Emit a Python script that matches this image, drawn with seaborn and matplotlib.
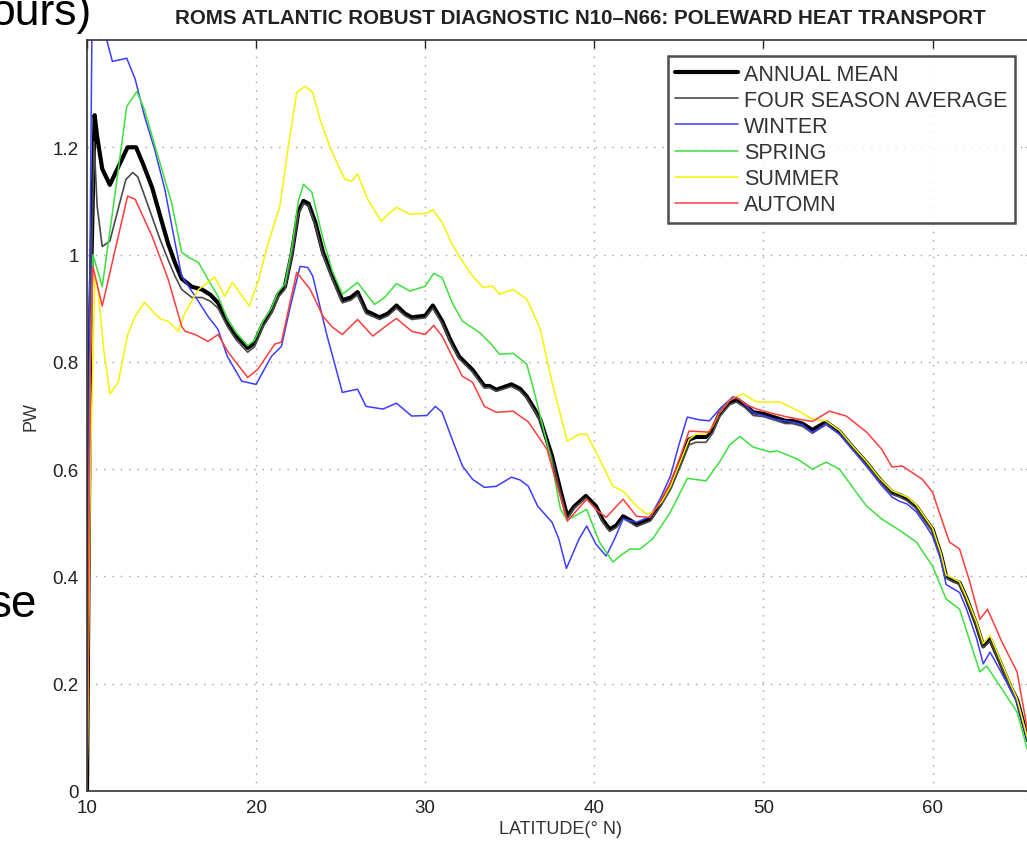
import numpy as np
import pandas as pd
import matplotlib
matplotlib.use("Agg")
import matplotlib.pyplot as plt
import seaborn as sns

# ---------------- data ----------------
annual_lat = [10.0, 10.2, 10.45, 10.6, 10.9, 11.35, 11.8, 12.4, 12.9, 13.3, 13.85, 14.3, 14.8, 15.2, 15.6, 16.2, 16.8, 17.3, 17.75, 18.3, 18.8, 19.5, 19.9, 20.4, 20.9, 21.3, 21.7, 22.1, 22.5, 22.8, 23.1, 23.5, 23.95, 24.5, 25.1, 25.6, 26.0, 26.5, 27.3, 27.8, 28.3, 28.8, 29.2, 30.0, 30.45, 31.0, 31.5, 32.0, 32.8, 33.5, 33.8, 34.2, 35.1, 35.6, 36.0, 36.5, 36.8, 37.5, 38.0, 38.4, 38.8, 39.5, 40.1, 40.5, 40.9, 41.3, 41.7, 42.1, 42.5, 43.3, 43.9, 44.5, 45.1, 45.6, 46.0, 46.6, 47.0, 47.4, 48.0, 48.4, 48.9, 49.4, 50.0, 50.8, 51.3, 51.7, 52.3, 52.9, 53.7, 54.5, 55.3, 56.1, 56.9, 57.6, 58.05, 58.5, 59.05, 59.6, 60.0, 60.5, 60.8, 61.2, 61.6, 62.0, 62.6, 63.0, 63.4, 64.0, 64.6, 65.0, 65.6, 66.0]
annual_pw = [0.0, 0.9, 1.26, 1.22, 1.16, 1.13, 1.16, 1.2, 1.2, 1.17, 1.125, 1.075, 1.02, 0.985, 0.955, 0.94, 0.935, 0.925, 0.91, 0.875, 0.85, 0.826, 0.835, 0.87, 0.895, 0.925, 0.94, 1.0, 1.08, 1.1, 1.095, 1.06, 1.005, 0.96, 0.915, 0.92, 0.93, 0.895, 0.883, 0.89, 0.905, 0.89, 0.883, 0.886, 0.905, 0.876, 0.84, 0.81, 0.785, 0.755, 0.755, 0.748, 0.758, 0.75, 0.736, 0.71, 0.693, 0.624, 0.56, 0.512, 0.53, 0.55, 0.531, 0.505, 0.488, 0.495, 0.512, 0.505, 0.497, 0.507, 0.535, 0.568, 0.615, 0.655, 0.66, 0.66, 0.675, 0.703, 0.725, 0.73, 0.72, 0.706, 0.703, 0.695, 0.69, 0.69, 0.685, 0.673, 0.688, 0.67, 0.64, 0.612, 0.58, 0.557, 0.552, 0.545, 0.53, 0.505, 0.488, 0.44, 0.4, 0.393, 0.388, 0.36, 0.31, 0.27, 0.283, 0.24, 0.195, 0.17, 0.1, 0.05]

four_lat = [10.0, 10.2, 10.42, 10.6, 10.9, 11.35, 11.8, 12.3, 12.7, 13.0, 13.4, 13.85, 14.3, 14.8, 15.2, 15.6, 16.2, 16.8, 17.3, 17.75, 18.3, 18.8, 19.5, 19.9, 20.4, 20.9, 21.3, 21.7, 22.1, 22.5, 22.8, 23.1, 23.5, 23.95, 24.5, 25.1, 25.6, 26.0, 26.5, 27.3, 27.8, 28.3, 28.8, 29.2, 30.0, 30.45, 31.0, 31.5, 32.0, 32.8, 33.5, 33.8, 34.2, 35.1, 35.6, 36.0, 36.5, 36.8, 37.5, 38.0, 38.4, 38.8, 39.5, 40.1, 40.5, 40.9, 41.3, 41.7, 42.1, 42.5, 43.3, 43.9, 44.5, 45.1, 45.6, 46.0, 46.6, 47.0, 47.4, 48.0, 48.4, 48.9, 49.4, 50.0, 50.8, 51.3, 51.7, 52.3, 52.9, 53.7, 54.5, 55.3, 56.1, 56.9, 57.6, 58.05, 58.5, 59.05, 59.6, 60.0, 60.5, 60.8, 61.2, 61.6, 62.0, 62.6, 63.0, 63.4, 64.0, 64.6, 65.0, 65.6, 66.0]
four_pw = [0.0, 0.9, 1.21, 1.09, 1.015, 1.025, 1.08, 1.14, 1.153, 1.145, 1.11, 1.07, 1.03, 0.99, 0.96, 0.935, 0.92, 0.92, 0.913, 0.9, 0.866, 0.842, 0.818, 0.828, 0.865, 0.89, 0.92, 0.935, 0.995, 1.075, 1.095, 1.09, 1.055, 1.0, 0.955, 0.91, 0.915, 0.925, 0.89, 0.879, 0.886, 0.9, 0.886, 0.879, 0.882, 0.9, 0.872, 0.836, 0.806, 0.781, 0.751, 0.752, 0.745, 0.754, 0.746, 0.732, 0.707, 0.69, 0.62, 0.556, 0.508, 0.527, 0.546, 0.527, 0.501, 0.484, 0.491, 0.508, 0.501, 0.493, 0.503, 0.53, 0.562, 0.606, 0.645, 0.65, 0.65, 0.667, 0.697, 0.72, 0.725, 0.715, 0.7, 0.698, 0.69, 0.685, 0.685, 0.68, 0.667, 0.683, 0.665, 0.636, 0.608, 0.576, 0.553, 0.548, 0.541, 0.526, 0.501, 0.484, 0.437, 0.397, 0.39, 0.385, 0.357, 0.307, 0.267, 0.28, 0.237, 0.192, 0.167, 0.098, 0.048]

winter_lat = [10.0, 10.15, 10.3, 11.0, 11.2, 11.5, 12.35, 12.85, 13.4, 14.0, 14.6, 15.2, 15.6, 16.4, 17.15, 17.74, 18.3, 19.15, 20.0, 20.9, 21.5, 22.0, 22.6, 23.05, 23.35, 23.8, 24.2, 24.7, 25.1, 26.0, 26.5, 27.5, 28.3, 29.2, 30.1, 30.6, 31.0, 31.6, 32.2, 32.8, 33.5, 34.2, 35.1, 35.6, 36.1, 36.65, 37.5, 37.9, 38.35, 39.1, 39.55, 40.1, 40.7, 41.2, 41.7, 42.5, 43.3, 43.9, 44.5, 45.0, 45.5, 46.2, 46.8, 47.5, 48.2, 48.6, 49.4, 50.0, 50.8, 51.7, 52.3, 52.9, 53.7, 54.5, 55.3, 56.1, 56.9, 57.6, 58.05, 58.5, 59.05, 59.6, 60.0, 60.5, 60.8, 61.6, 62.0, 62.6, 63.0, 63.4, 64.0, 64.6, 65.0, 65.6, 66.0]
winter_pw = [0.0, 0.9, 1.45, 1.45, 1.396, 1.36, 1.366, 1.327, 1.258, 1.196, 1.122, 1.023, 0.96, 0.922, 0.885, 0.861, 0.81, 0.764, 0.758, 0.81, 0.829, 0.9, 0.978, 0.976, 0.96, 0.9, 0.848, 0.79, 0.743, 0.749, 0.717, 0.712, 0.723, 0.699, 0.7, 0.717, 0.706, 0.655, 0.606, 0.581, 0.566, 0.568, 0.585, 0.58, 0.568, 0.531, 0.501, 0.47, 0.415, 0.47, 0.494, 0.46, 0.438, 0.47, 0.507, 0.501, 0.512, 0.545, 0.587, 0.645, 0.697, 0.692, 0.69, 0.715, 0.735, 0.73, 0.705, 0.7, 0.692, 0.688, 0.683, 0.668, 0.685, 0.665, 0.635, 0.605, 0.573, 0.548, 0.54, 0.535, 0.52, 0.495, 0.475, 0.43, 0.385, 0.37, 0.34, 0.285, 0.237, 0.259, 0.225, 0.19, 0.165, 0.095, 0.05]

spring_lat = [10.0, 10.2, 10.35, 10.9, 11.6, 12.35, 12.95, 13.4, 14.2, 15.0, 15.6, 16.0, 16.6, 17.15, 17.75, 18.3, 18.8, 19.5, 19.9, 20.4, 20.9, 21.3, 21.7, 22.1, 22.5, 22.8, 23.3, 23.95, 24.5, 25.1, 26.0, 27.0, 27.6, 28.3, 29.1, 30.0, 30.5, 31.0, 31.6, 32.2, 33.2, 33.9, 34.4, 35.2, 36.0, 36.4, 36.8, 37.4, 38.0, 38.4, 39.55, 40.3, 41.1, 41.6, 42.1, 42.7, 43.45, 44.5, 45.5, 46.6, 47.4, 48.0, 48.6, 49.4, 50.4, 50.8, 52.0, 52.9, 53.7, 54.5, 55.3, 56.1, 57.0, 58.05, 59.05, 60.0, 60.8, 61.6, 62.2, 62.8, 63.2, 64.0, 65.0, 65.6, 66.0]
spring_pw = [0.0, 0.8, 1.0, 0.94, 1.1, 1.276, 1.304, 1.27, 1.183, 1.097, 1.004, 0.995, 0.985, 0.954, 0.922, 0.88, 0.855, 0.83, 0.84, 0.875, 0.9, 0.93, 0.945, 1.01, 1.1, 1.131, 1.116, 1.03, 0.97, 0.926, 0.948, 0.907, 0.92, 0.946, 0.932, 0.941, 0.965, 0.957, 0.91, 0.876, 0.855, 0.833, 0.814, 0.816, 0.796, 0.75, 0.699, 0.624, 0.525, 0.505, 0.525, 0.464, 0.427, 0.44, 0.451, 0.451, 0.47, 0.52, 0.583, 0.578, 0.613, 0.645, 0.661, 0.641, 0.632, 0.634, 0.619, 0.6, 0.613, 0.6, 0.565, 0.531, 0.507, 0.486, 0.464, 0.419, 0.358, 0.339, 0.28, 0.222, 0.233, 0.195, 0.147, 0.078, 0.04]

summer_lat = [10.0, 10.2, 10.47, 10.65, 11.0, 11.36, 11.85, 12.4, 12.85, 13.4, 14.0, 14.4, 14.8, 15.4, 15.8, 16.6, 17.55, 18.15, 18.6, 19.6, 20.1, 20.7, 21.4, 21.9, 22.4, 22.9, 23.35, 23.8, 24.35, 24.8, 25.25, 25.65, 26.0, 26.6, 27.4, 27.8, 28.3, 29.1, 30.1, 30.45, 31.0, 31.5, 32.0, 32.8, 33.4, 34.0, 34.4, 35.2, 36.0, 36.4, 36.8, 37.5, 38.4, 39.1, 39.55, 40.3, 41.1, 41.7, 42.5, 43.1, 43.45, 44.0, 44.5, 45.1, 45.6, 46.0, 46.6, 47.0, 47.4, 48.0, 48.4, 48.8, 49.6, 51.0, 52.1, 52.9, 53.7, 54.5, 55.3, 56.1, 56.9, 57.6, 58.05, 58.5, 59.05, 59.6, 60.0, 60.5, 60.8, 61.6, 62.0, 62.6, 63.0, 63.4, 64.0, 64.6, 65.0, 65.6, 66.0]
summer_pw = [0.0, 0.6, 0.96, 0.935, 0.82, 0.74, 0.762, 0.85, 0.885, 0.911, 0.89, 0.879, 0.876, 0.857, 0.892, 0.935, 0.958, 0.922, 0.948, 0.904, 0.948, 1.02, 1.09, 1.2, 1.302, 1.314, 1.302, 1.25, 1.202, 1.17, 1.14, 1.137, 1.15, 1.103, 1.062, 1.075, 1.088, 1.075, 1.077, 1.084, 1.06, 1.025, 0.997, 0.96, 0.939, 0.941, 0.926, 0.935, 0.917, 0.89, 0.861, 0.762, 0.652, 0.665, 0.665, 0.619, 0.568, 0.559, 0.531, 0.516, 0.52, 0.54, 0.568, 0.615, 0.655, 0.665, 0.665, 0.68, 0.705, 0.728, 0.735, 0.74, 0.725, 0.725, 0.708, 0.693, 0.69, 0.672, 0.642, 0.614, 0.582, 0.56, 0.554, 0.548, 0.533, 0.508, 0.49, 0.443, 0.403, 0.39, 0.362, 0.315, 0.275, 0.29, 0.245, 0.2, 0.172, 0.1, 0.05]

autumn_lat = [10.0, 10.2, 10.35, 10.9, 11.6, 12.4, 12.85, 13.85, 14.8, 15.6, 15.8, 16.4, 17.15, 17.75, 18.35, 19.5, 20.1, 21.1, 21.5, 22.0, 22.4, 23.2, 23.95, 24.5, 25.1, 26.0, 26.9, 27.6, 28.3, 29.2, 30.0, 30.5, 31.0, 31.6, 32.2, 32.8, 33.5, 34.2, 35.2, 36.1, 37.2, 37.8, 38.4, 39.55, 40.1, 40.7, 41.7, 42.5, 43.3, 43.9, 44.5, 45.1, 45.6, 46.8, 47.4, 48.0, 48.4, 49.0, 49.6, 50.4, 51.3, 52.1, 52.9, 53.9, 54.9, 56.1, 57.0, 57.6, 58.2, 59.4, 60.0, 60.5, 61.0, 61.6, 62.2, 62.8, 63.25, 64.1, 65.0, 65.6, 66.0]
autumn_pw = [0.0, 0.8, 0.978, 0.904, 1.0, 1.109, 1.103, 1.034, 0.954, 0.866, 0.857, 0.851, 0.838, 0.851, 0.818, 0.771, 0.786, 0.833, 0.837, 0.91, 0.967, 0.935, 0.885, 0.865, 0.851, 0.879, 0.848, 0.865, 0.881, 0.857, 0.851, 0.868, 0.848, 0.81, 0.773, 0.762, 0.717, 0.706, 0.708, 0.688, 0.637, 0.57, 0.503, 0.544, 0.525, 0.51, 0.544, 0.512, 0.51, 0.54, 0.575, 0.625, 0.671, 0.669, 0.705, 0.728, 0.734, 0.72, 0.712, 0.705, 0.698, 0.693, 0.689, 0.708, 0.699, 0.669, 0.637, 0.604, 0.606, 0.581, 0.557, 0.51, 0.464, 0.451, 0.39, 0.32, 0.339, 0.278, 0.222, 0.116, 0.06]

series_names = ["ANNUAL MEAN", "FOUR SEASON AVERAGE", "WINTER", "SPRING", "SUMMER", "AUTOMN"]
x_ticks = [10, 20, 30, 40, 50, 60]
y_ticks = [0, 0.2, 0.4, 0.6, 0.8, 1, 1.2]
y_tick_labels = ["0", "0.2", "0.4", "0.6", "0.8", "1", "1.2"]

# ---------------- figure ----------------
sns.set_style("white")
plt.rcParams["font.family"] = ["Liberation Sans", "DejaVu Sans"]

W, H = 1027, 845
fig = plt.figure(figsize=(W / 100, H / 100), dpi=100)
ax_l, ax_r, ax_t, ax_b = 87, 1034, 41, 792
ax = fig.add_axes([ax_l / W, (H - ax_b) / H, (ax_r - ax_l) / W, (ax_b - ax_t) / H])

data = [(annual_lat, annual_pw), (four_lat, four_pw), (winter_lat, winter_pw),
        (spring_lat, spring_pw), (summer_lat, summer_pw), (autumn_lat, autumn_pw)]
colors = ["black", "#4a4a4a", "#3d3dff", "#3de03d", "#f4f400", "#ff3d3d"]
widths = [3.0, 1.2, 1.1, 1.1, 1.1, 1.1]

for (lat, pw), name, c, lw in zip(data, series_names, colors, widths):
    df = pd.DataFrame({"lat": lat, "pw": pw})
    sns.lineplot(data=df, x="lat", y="pw", ax=ax, color=c, linewidth=lw,
                 label=name, sort=False, estimator=None)

ax.set_xticks(x_ticks)
ax.set_yticks(y_ticks)
ax.set_yticklabels(y_tick_labels)
ax.set_xlim(10, 66)
ax.set_ylim(0, 1.4)
ax.grid(True, linestyle=(0, (1, 5)), color="#a0a0a0", linewidth=1.0)
ax.tick_params(direction="in", top=True, right=True, length=6, width=1,
               labelsize=13.5, colors="#222222", pad=6)
for s in ax.spines.values():
    s.set_visible(True)
    s.set_color("#333333")
    s.set_linewidth(1.2)

ax.set_xlabel("LATITUDE(° N)", fontsize=13, color="#333333")
ax.set_ylabel("PW", fontsize=13, color="#333333")
ax.xaxis.set_label_coords(0.5, -0.038)
ax.yaxis.set_label_coords(-0.05, 0.5)

fig.text(580 / W, (H - 18) / H, "ROMS ATLANTIC ROBUST DIAGNOSTIC N10\u2013N66: POLEWARD HEAT TRANSPORT",
         ha="center", va="center", fontsize=14.8, fontweight="bold", color="#222222")

leg = ax.legend(loc="upper right", bbox_to_anchor=(1015 / W, (H - 57) / H),
                bbox_transform=fig.transFigure, borderaxespad=0, frameon=True,
                fancybox=False, fontsize=15.5, handlelength=2.9, labelspacing=0.24,
                handletextpad=0.3, borderpad=0.35)
leg.get_frame().set_edgecolor("#222222")
leg.get_frame().set_linewidth(1.8)
for t in leg.get_texts():
    t.set_color("#333333")

# fragments of the slide text behind the chart
fig.text(91 / W, (H - 25) / H, "ours)", ha="right", va="baseline", fontsize=32, color="black")
fig.text(37 / W, (H - 617) / H, "se", ha="right", va="baseline", fontsize=33, color="black")

fig.savefig("out.png", dpi=100)
